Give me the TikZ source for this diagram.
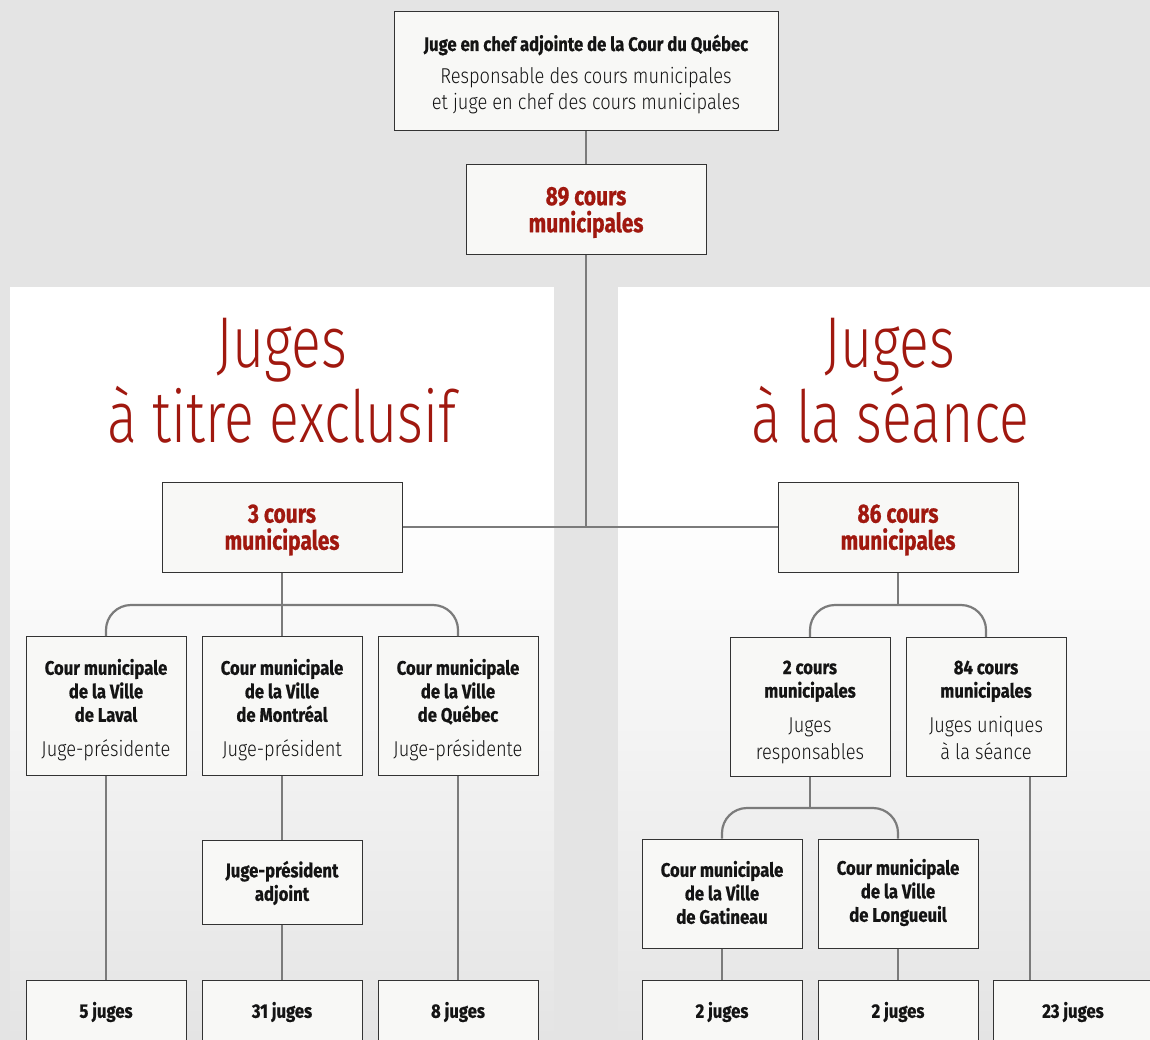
\documentclass[tikz,border=0pt]{standalone}
\usepackage{fontspec}
\setmainfont{Fira Sans}
\newfontfamily\boldf{Fira Sans}[FakeStretch=0.85, BoldFeatures={FakeBold=0.7}]
\newfontfamily\redf{Fira Sans}[FakeStretch=0.79, BoldFeatures={FakeBold=0.7}]
\newfontfamily\lightf{Fira Sans Light}[FakeStretch=0.85]
\newfontfamily\titlef{Fira Sans Light}[FakeStretch=0.77]
\definecolor{bg}{HTML}{E4E4E4}
\definecolor{rouge}{HTML}{A0180F}
\definecolor{boxfill}{HTML}{F8F8F6}
\definecolor{boxline}{HTML}{333333}
\definecolor{connc}{HTML}{7B7B7B}
\definecolor{lighttext}{HTML}{141414}
\newcommand{\lt}[1]{{\fontsize{21.5}{23.5}\lightf\mdseries\color{lighttext}#1}}
\begin{document}
\begin{tikzpicture}[x=1pt,y=-1pt,
  box/.style={draw=boxline, line width=1pt, fill=boxfill, inner sep=0pt},
  boxtext/.style={inner sep=0pt, align=center, text=black!92,
    font=\fontsize{19.6}{23.5}\boldf\bfseries},
  redtext/.style={boxtext, text=rouge, font=\fontsize{26.5}{27}\redf\bfseries},
  redbox/.style={box, minimum width=240, minimum height=90},
  citybox/.style={box, minimum width=160, minimum height=139},
  judgebox/.style={box, minimum width=160, minimum height=64},
  link/.style={draw=connc, line width=2.2pt},
  bracket/.style={link, rounded corners=25pt},
  titletext/.style={anchor=base, text=rouge, font=\fontsize{72}{72}\titlef, inner sep=0pt}
]
\useasboundingbox (0,0) rectangle (1150,1040);
\begin{scope}
\clip (0,0) rectangle (1150,1040);
\fill[bg] (0,0) rectangle (1150,1040);
% panels
\fill[white] (10,287) rectangle (554,500);
\shade[top color=white, bottom color=bg] (10,500) rectangle (554,1040);
\fill[white] (618,287) rectangle (1150,500);
\shade[top color=white, bottom color=bg] (618,500) rectangle (1150,1040);

% titles
\node[titletext] (tl1) at (282,367) {Juges};
\node[titletext] (tl2) at (282,442) {à titre exclusif};
\node[titletext] (tr1) at (890,367) {Juges};
\node[titletext] (tr2) at (890,442) {à la séance};

\coordinate (k84) at (1030,777);

% boxes
\node[box, minimum width=384, minimum height=119] (top) at (586,71.5) {};
\node[redbox] (c89) at (586,209.5) {};
\node[redbox] (c3) at (282,527) {};
\node[redbox] (c86) at (898,527) {};
\node[citybox] (laval) at (106,706) {};
\node[citybox] (mtl) at (282,706) {};
\node[citybox] (qc) at (458,706) {};
\node[citybox] (c2) at (810,707) {};
\node[citybox] (c84) at (986,707) {};
\node[box, minimum width=160, minimum height=84] (adj) at (282,882) {};
\node[box, minimum width=160, minimum height=109] (gat) at (722,893.5) {};
\node[box, minimum width=160, minimum height=109] (lon) at (898,893.5) {};
\node[judgebox] (j5) at (106,1012) {};
\node[judgebox] (j31) at (282,1012) {};
\node[judgebox] (j8) at (458,1012) {};
\node[judgebox] (j2a) at (722,1012) {};
\node[judgebox] (j2b) at (898,1012) {};
\node[judgebox] (j23) at (1073,1012) {};

% texts
\node[boxtext, yshift=-3pt] (top-t) at (top.center)
  {Juge en chef adjointe de la Cour du Québec\\[9.5pt]
   \lt{Responsable des cours municipales}\\[2.5pt]
   \lt{et juge en chef des cours municipales}};
\node[redtext, yshift=-3pt] (c89-t) at (c89.center) {89 cours\\municipales};
\node[redtext, yshift=-3pt] (c3-t) at (c3.center) {3 cours\\municipales};
\node[redtext, yshift=-3pt] (c86-t) at (c86.center) {86 cours\\municipales};
\node[boxtext, yshift=-4pt] (laval-t) at (laval.center) {Cour municipale\\de la Ville\\de Laval\\[11.5pt]\lt{Juge-présidente}};
\node[boxtext, yshift=-4pt] (mtl-t) at (mtl.center) {Cour municipale\\de la Ville\\de Montréal\\[11.5pt]\lt{Juge-président}};
\node[boxtext, yshift=-4pt] (qc-t) at (qc.center) {Cour municipale\\de la Ville\\de Québec\\[11.5pt]\lt{Juge-présidente}};
\node[boxtext, yshift=-5pt] (c2-t) at (c2.center) {2 cours\\municipales\\[11.5pt]\lt{Juges}\\[3pt]\lt{responsables}};
\node[boxtext, yshift=-3pt] (c84-t) at (c84.center) {84 cours\\municipales\\[11.5pt]\lt{Juges uniques}\\[3pt]\lt{à la séance}};
\node[boxtext, yshift=-1pt] (adj-t) at (adj.center) {Juge-président\\adjoint};
\node[boxtext, yshift=1pt] (gat-t) at (gat.center) {Cour municipale\\de la Ville\\de Gatineau};
\node[boxtext, yshift=1pt] (lon-t) at (lon.center) {Cour municipale\\de la Ville\\de Longueuil};
\node[boxtext] (j5-t) at (j5.center) {5 juges};
\node[boxtext] (j31-t) at (j31.center) {31 juges};
\node[boxtext] (j8-t) at (j8.center) {8 juges};
\node[boxtext] (j2a-t) at (j2a.center) {2 juges};
\node[boxtext] (j2b-t) at (j2b.center) {2 juges};
\node[boxtext] (j23-t) at (j23.center) {23 juges};

% connectors
\draw[link] (top.south) -- (c89.north);
\draw[link] (c89.south) -- (c89.south |- c3.east);
\draw[link] (c3.east) -- (c86.west);
\draw[link] (c3.south) -- (mtl.north);
\draw[bracket] (laval.north) |- (qc.north |- 0,605) -- (qc.north);
\draw[link] (c86.south) -- (c86.south |- 0,605);
\draw[bracket] (c2.north) |- (c84.north |- 0,605) -- (c84.north);
\draw[link] (laval.south) -- (j5.north);
\draw[link] (mtl.south) -- (adj.north);
\draw[link] (adj.south) -- (j31.north);
\draw[link] (qc.south) -- (j8.north);
\draw[link] (c2.south) -- (c2.south |- 0,808);
\draw[bracket] (gat.north) |- (lon.north |- 0,808) -- (lon.north);
\draw[link] (gat.south) -- (j2a.north);
\draw[link] (lon.south) -- (j2b.north);
\draw[link] (k84) -- (k84 |- j23.north);
\end{scope}
\end{tikzpicture}
\end{document}
